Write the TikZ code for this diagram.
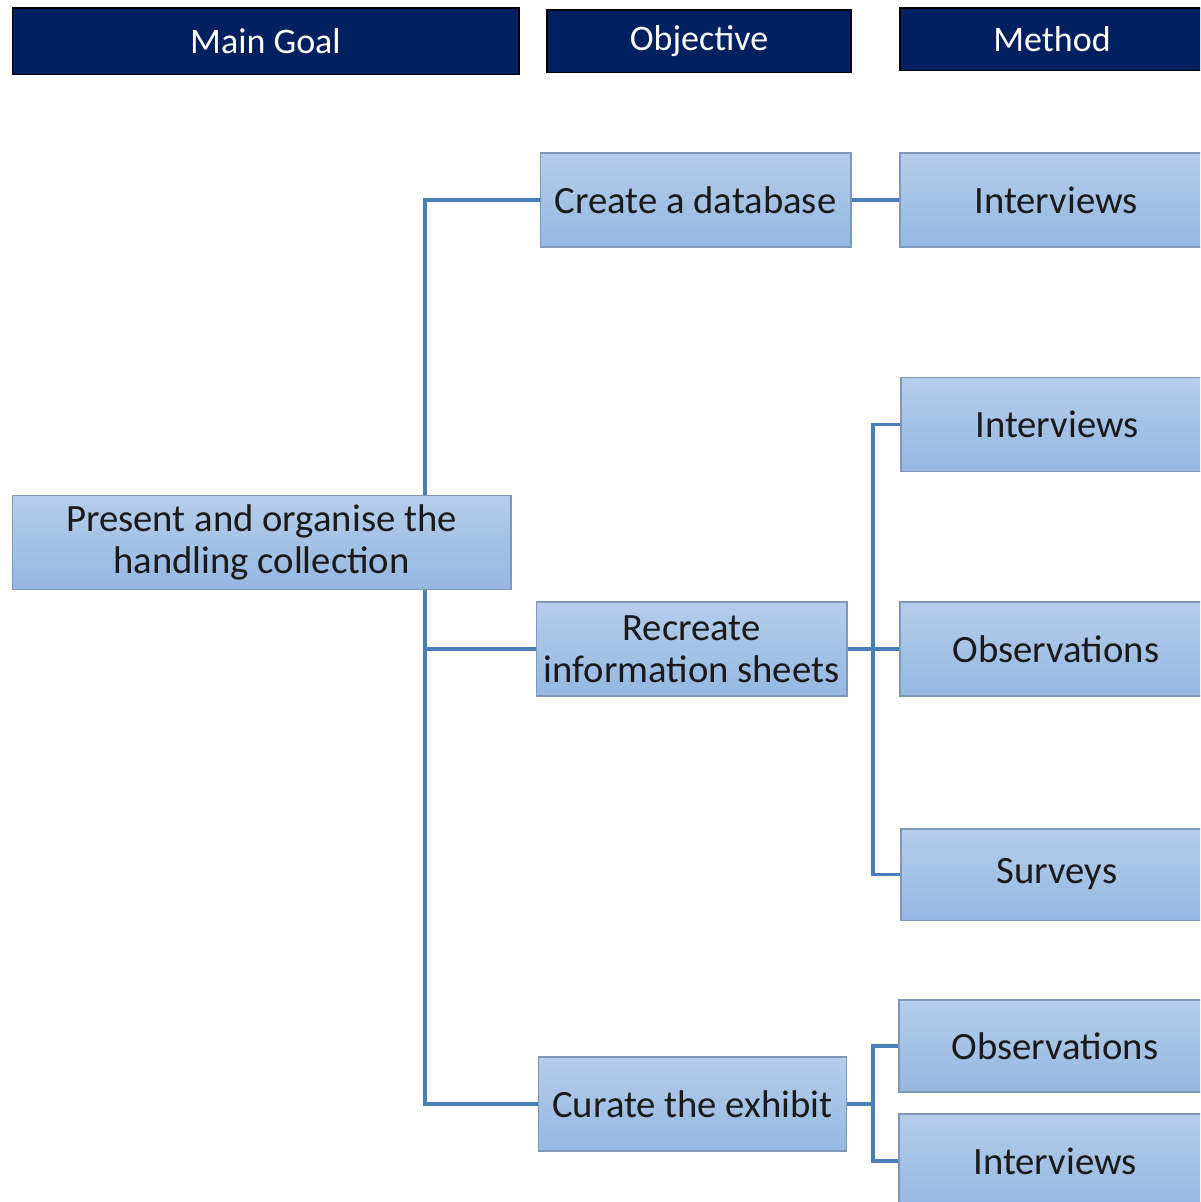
\documentclass[tikz,border=0pt]{standalone}
\usepackage{fontspec}
\setmainfont{Carlito}
\usetikzlibrary{backgrounds}
\definecolor{headblue}{HTML}{002060}
\definecolor{boxtop}{HTML}{B5CEEA}
\definecolor{boxbot}{HTML}{94B7E2}
\definecolor{boxline}{HTML}{7F97B8}
\definecolor{linkblue}{HTML}{4A7EBB}
\definecolor{ink}{HTML}{1A1A1A}
\begin{document}
\begin{tikzpicture}[x=0.75pt,y=-0.75pt,
    header/.style={draw=black,line width=1pt,fill=headblue,text=white,
        inner sep=0pt,font=\fontsize{27}{32}\selectfont},
    stepbox/.style={draw=boxline,line width=1pt,top color=boxtop,bottom color=boxbot,
        text=ink,inner sep=0pt,align=center,minimum height=70.5pt,
        font=\fontsize{29}{31.5}\selectfont},
    link/.style={draw=linkblue,line width=2.4pt}]
    % Frame of the picture
    \useasboundingbox (0,0) rectangle (1200,1202);
    \clip (0,0) rectangle (1200,1202);

    % Column headers
    \node[header,minimum width=380pt,minimum height=50pt] (hgoal) at (265.5,41.5) {Main Goal};
    \node[header,minimum width=228pt,minimum height=47pt] (hobj) at (699,41.5) {Objective};
    \node[header,minimum width=228pt,minimum height=47pt] (hmeth) at (1052,39.5) {Method};

    % Junction points of the connectors
    \coordinate (j1) at (425,589);
    \coordinate (j2) at (873,649);
    \coordinate (j3) at (873,1104);

    % Main goal
    \node[stepbox,minimum width=374pt] (goal) at (261.5,542.5)
        {Present and organise the\\handling collection};

    % Objectives
    \node[stepbox,minimum width=233pt] (db) at (695.5,200) {Create a database};
    \node[stepbox,minimum width=233pt] (info) at (691.5,649) {Recreate\\information sheets};
    \node[stepbox,minimum width=231pt] (exh) at (692.5,1104) {Curate the exhibit};

    % Methods
    \node[stepbox,minimum width=234pt] (m1) at (1056,200) {Interviews};
    \node[stepbox,minimum width=234pt] (m2) at (1057,424.5) {Interviews};
    \node[stepbox,minimum width=234pt] (m3) at (1056,649) {Observations};
    \node[stepbox,minimum width=234pt,minimum height=68.5pt] (m4) at (1057,874.5) {Surveys};
    \node[stepbox,minimum width=234pt,minimum height=69pt] (m5) at (1055,1046) {Observations};
    \node[stepbox,minimum width=234pt] (m6) at (1055,1161) {Interviews};

    % Connectors, drawn behind the boxes
    \begin{scope}[on background layer]
    \draw[link] (j1) |- (db.west);
    \draw[link] (j1) |- (info.west);
    \draw[link] (j1) |- (exh.west);
    \draw[link] (db.east) -- (m1.west);
    \draw[link] (info.east) -- (j2);
    \draw[link] (j2) |- (m2.west);
    \draw[link] (j2) |- (m3.west);
    \draw[link] (j2) |- (m4.west);
    \draw[link] (exh.east) -- (j3);
    \draw[link] (j3) |- (m5.west);
    \draw[link] (j3) |- (m6.west);
    \end{scope}

\end{tikzpicture}
\end{document}
